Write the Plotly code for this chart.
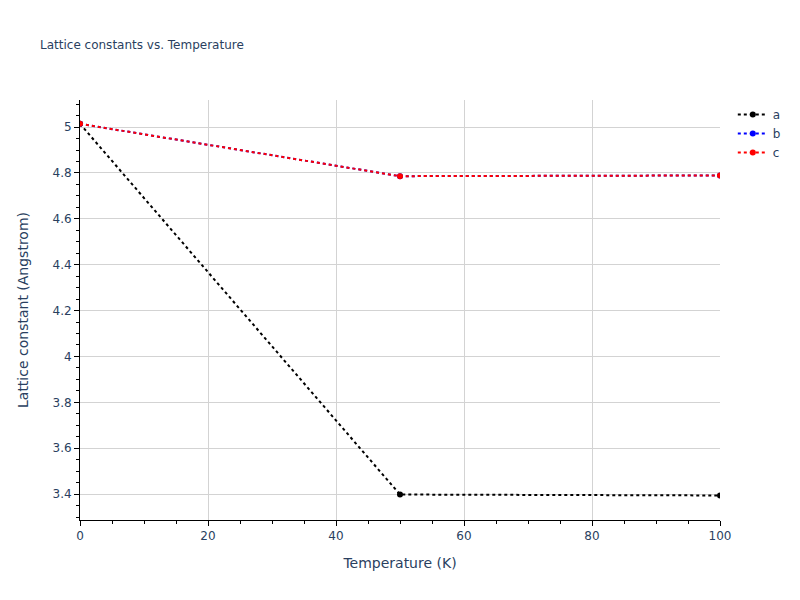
import plotly.graph_objects as go

# --------------------------------------------------------------
# Lattice constants vs temperature
# --------------------------------------------------------------
temperature = [0, 50, 100]
lattice_a = [5.014, 3.398, 3.394]
lattice_b = [5.014, 4.786, 4.789]
lattice_c = [5.014, 4.786, 4.789]

SERIES = [
    ("a", lattice_a, "black"),
    ("b", lattice_b, "blue"),
    ("c", lattice_c, "red"),
]

fig = go.Figure()
for name, values, color in SERIES:
    fig.add_trace(go.Scatter(
        x=temperature,
        y=values,
        mode="lines+markers",
        name=name,
        line=dict(color=color, dash="dot", width=2),
        marker=dict(color=color, size=6),
    ))

axis_style = dict(
    showline=True,
    linecolor="black",
    linewidth=1,
    ticks="outside",
    ticklen=5,
    tickcolor="black",
    showgrid=True,
    gridcolor="lightgray",
    zeroline=False,
    minor=dict(ticks="outside", ticklen=3, tickcolor="black", showgrid=False),
)

fig.update_layout(
    width=800,
    height=600,
    # page body adds an 8px offset, so shift the margins to compensate
    margin=dict(l=72, r=88, t=92, b=88),
    font=dict(family="Verdana, DejaVu Sans, sans-serif"),
    title=dict(text="Lattice constants vs. Temperature", font=dict(size=12),
               x=0.04, y=0.938, yanchor="middle"),
    plot_bgcolor="white",
    paper_bgcolor="white",
    xaxis=dict(title="Temperature (K)", range=[0, 100], dtick=20,
               **axis_style),
    yaxis=dict(title=dict(text="Lattice constant (Angstrom)", standoff=20),
               range=[3.287, 5.118], dtick=0.2, **axis_style),
)
fig.update_xaxes(minor_dtick=5)
fig.update_yaxes(minor_dtick=0.05)

fig.write_html("out.html")
